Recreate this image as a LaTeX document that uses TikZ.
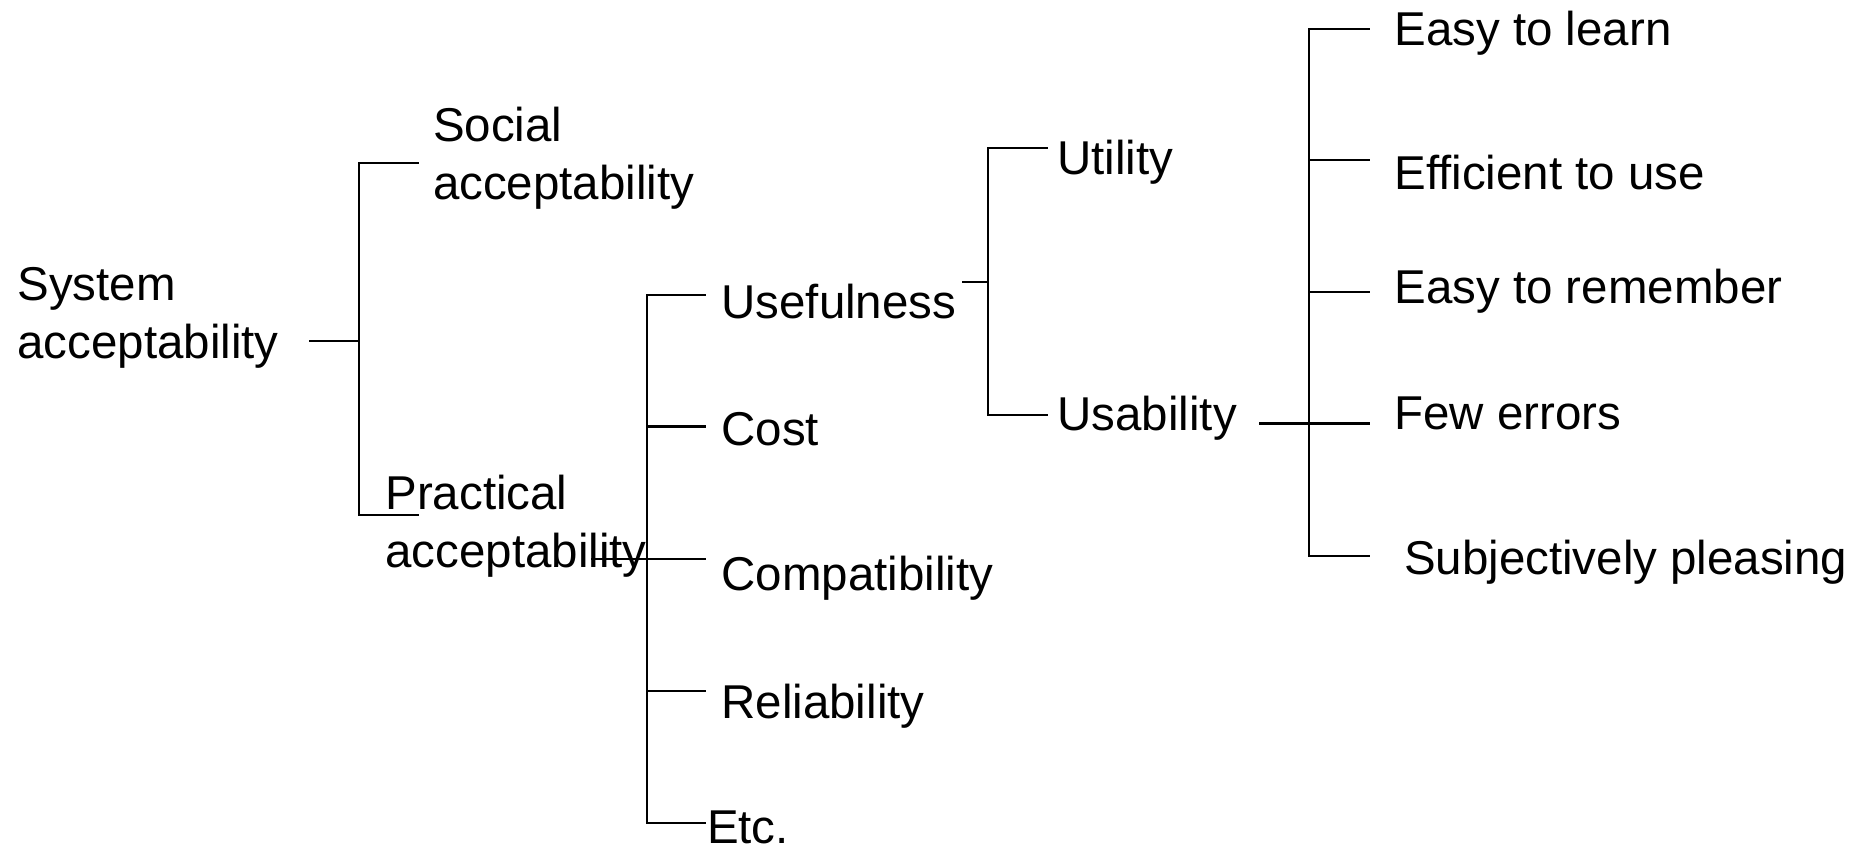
\documentclass[tikz,border=0pt]{standalone}
\usepackage{fontspec}
\setmainfont{Liberation Sans}
\tikzset{
    item/.style={anchor=west, inner sep=0pt, align=left,
        font=\fontsize{13.5}{16.5}\selectfont},
    branch/.style={line width=0.6pt}
}

\begin{document}
\begin{tikzpicture}[x=0.01cm, y=-0.01cm, line cap=rect]
    \useasboundingbox (0,0) rectangle (1868,849);
    % labels
    \node[item] (sys) at (16.7,317.7) {System\\acceptability};
    \node[item] (soc) at (432.4,158) {Social\\acceptability};
    \node[item] (prac) at (384.8,526.2) {Practical\\acceptability};
    \node[item] (usef) at (720.7,301.4) {Usefulness};
    \node[item] (cost) at (720.7,428.9) {Cost};
    \node[item] (comp) at (720.7,578) {Compatibility};
    \node[item] (rel) at (720.7,706.7) {Reliability};
    \node[item] (etc) at (706.4,827) {Etc.};
    \node[item] (util) at (1056.7,162.3) {Utility};
    \node[item] (usab) at (1056.7,418.4) {Usability};
    \node[item] (learn) at (1393.8,33.6) {Easy to learn};
    \node[item] (eff) at (1393.8,172.7) {Efficient to use};
    \node[item] (rem) at (1393.8,290.9) {Easy to remember};
    \node[item] (few) at (1393.8,413.4) {Few errors};
    \node[item] (please) at (1403.4,562.5) {Subjectively pleasing};
    % branch points
    \coordinate (sysout) at (309.7,340.7);
    \coordinate (j1) at (358.6,340.7);
    \coordinate (socin) at (418.1,163.2);
    \coordinate (pracin) at (418.1,514.6);
    \coordinate (pracout) at (592.4,558.7);
    \coordinate (j2) at (646.9,558.7);
    \coordinate (usefin) at (705.3,295.4);
    \coordinate (costin) at (705.3,426.5);
    \coordinate (compin) at (705.3,558.7);
    \coordinate (relin) at (705.3,691.0);
    \coordinate (etcin) at (705.3,823.2);
    \coordinate (usefout) at (962.6,282.3);
    \coordinate (j3) at (987.6,282.3);
    \coordinate (utilin) at (1047.2,148);
    \coordinate (usabin) at (1047.2,414.6);
    \coordinate (usabout) at (1260.4,423.5);
    \coordinate (j4) at (1309.2,423.5);
    \coordinate (learnin) at (1368.8,28.6);
    \coordinate (effin) at (1368.8,159.6);
    \coordinate (remin) at (1368.8,291.9);
    \coordinate (fewin) at (1368.8,423.5);
    \coordinate (pleasein) at (1368.8,556.3);
    % connectors
    \draw[branch] (sysout) -- (j1);
    \draw[branch] (socin) -- (socin -| j1) -- (pracin -| j1) -- (pracin);
    \draw[branch] (usefin) -- (usefin -| j2) -- (etcin -| j2) -- (etcin);
    \draw[branch] (pracout) -- (compin);
    \foreach \c in {costin, relin}
        \draw[branch] (\c -| j2) -- (\c);
    \draw[branch] (usefout) -- (j3);
    \draw[branch] (utilin) -- (utilin -| j3) -- (usabin -| j3) -- (usabin);
    \draw[branch] (learnin) -- (learnin -| j4) -- (pleasein -| j4) -- (pleasein);
    \draw[branch] (usabout) -- (fewin);
    \foreach \c in {effin, remin}
        \draw[branch] (\c -| j4) -- (\c);
\end{tikzpicture}
\end{document}
